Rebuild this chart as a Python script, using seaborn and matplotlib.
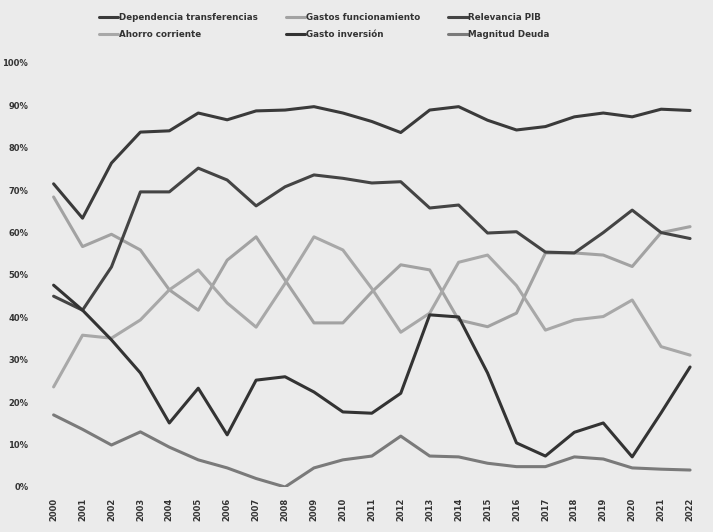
import matplotlib
matplotlib.use("Agg")
import matplotlib.pyplot as plt
import matplotlib.ticker as mticker
import seaborn as sns
import pandas as pd

years = list(range(2000, 2023))

dependencia_transferencias = [71.5, 63.4, 76.4, 83.7, 84.0, 88.2, 86.6, 88.7, 88.9, 89.7, 88.2, 86.2,
                              83.6, 88.9, 89.7, 86.5, 84.2, 85.0, 87.3, 88.2, 87.3, 89.1, 88.8]
gastos_funcionamiento = [68.4, 56.7, 59.6, 55.9, 46.5, 41.7, 53.5, 59.0, 48.8, 38.7, 38.7, 46.0,
                         52.4, 51.2, 39.4, 37.8, 41.0, 55.2, 55.2, 54.7, 52.0, 60.0, 61.4]
relevancia_pib = [45.0, 41.7, 51.9, 69.6, 69.6, 75.2, 72.4, 66.3, 70.8, 73.6, 72.8, 71.7,
                  72.0, 65.8, 66.5, 59.9, 60.2, 55.4, 55.2, 60.0, 65.3, 60.0, 58.6]
ahorro_corriente = [23.6, 35.8, 35.1, 39.4, 46.5, 51.2, 43.4, 37.7, 48.0, 59.0, 55.9, 46.8,
                    36.5, 41.0, 53.0, 54.7, 47.5, 37.0, 39.4, 40.2, 44.1, 33.1, 31.1]
gasto_inversion = [47.6, 41.7, 34.7, 26.9, 15.1, 23.3, 12.3, 25.2, 26.0, 22.4, 17.7, 17.4,
                   22.1, 40.6, 40.1, 26.9, 10.4, 7.3, 12.9, 15.1, 7.1, 17.5, 28.3]
magnitud_deuda = [17.0, 13.6, 9.9, 13.0, 9.4, 6.4, 4.5, 2.0, 0.0, 4.5, 6.4, 7.3,
                  12.0, 7.3, 7.1, 5.6, 4.8, 4.8, 7.1, 6.6, 4.5, 4.2, 4.0]

series = {
    "Dependencia transferencias": (dependencia_transferencias, "#3a3a3a"),
    "Gastos funcionamiento": (gastos_funcionamiento, "#a2a2a2"),
    "Relevancia PIB": (relevancia_pib, "#444444"),
    "Ahorro corriente": (ahorro_corriente, "#a8a8a8"),
    "Gasto inversión": (gasto_inversion, "#333333"),
    "Magnitud Deuda": (magnitud_deuda, "#7a7a7a"),
}

sns.set_theme(style="white")
plt.rcParams["font.family"] = ["DejaVu Sans"]

bg = "#ebebeb"
fig = plt.figure(figsize=(7.13, 5.32), dpi=100, facecolor=bg)
ax = fig.add_axes([0.063, 0.0846, 0.917, 0.797], facecolor=bg)

pos = list(range(len(years)))
handles = {}
for name, (vals, col) in series.items():
    df = pd.DataFrame({"pos": pos, "valor": vals})
    sns.lineplot(data=df, x="pos", y="valor", color=col, linewidth=2.2, ax=ax, label=name)
    handles[name] = ax.get_lines()[-1]

ax.set_xlim(-0.3, 22.3)
ax.set_ylim(0, 100)
ax.set_yticks(range(0, 101, 10))
ax.yaxis.set_major_formatter(mticker.FuncFormatter(lambda v, _: f"{int(v)}%"))
ax.set_xticks(pos)
ax.set_xticklabels([str(y) for y in years], rotation=90)
ax.tick_params(axis="both", length=0, labelsize=6, labelcolor="#333333")
ax.tick_params(axis="y", pad=12)
ax.tick_params(axis="x", pad=8)
for lab in ax.get_xticklabels() + ax.get_yticklabels():
    lab.set_fontweight("bold")
ax.set_xlabel("")
ax.set_ylabel("")
for s in ax.spines.values():
    s.set_visible(False)
ax.get_legend().remove()

order = ["Dependencia transferencias", "Ahorro corriente", "Gastos funcionamiento",
         "Gasto inversión", "Relevancia PIB", "Magnitud Deuda"]
leg = fig.legend([handles[n] for n in order], order, loc="upper center",
                 bbox_to_anchor=(0.455, 0.99), ncol=3, frameon=False,
                 prop={"size": 6.3, "weight": "bold"}, handlelength=2.2,
                 handletextpad=0.1, columnspacing=3.2, labelspacing=0.9)
for t in leg.get_texts():
    t.set_color("#333333")

fig.savefig("out.png", dpi=100, facecolor=bg)
